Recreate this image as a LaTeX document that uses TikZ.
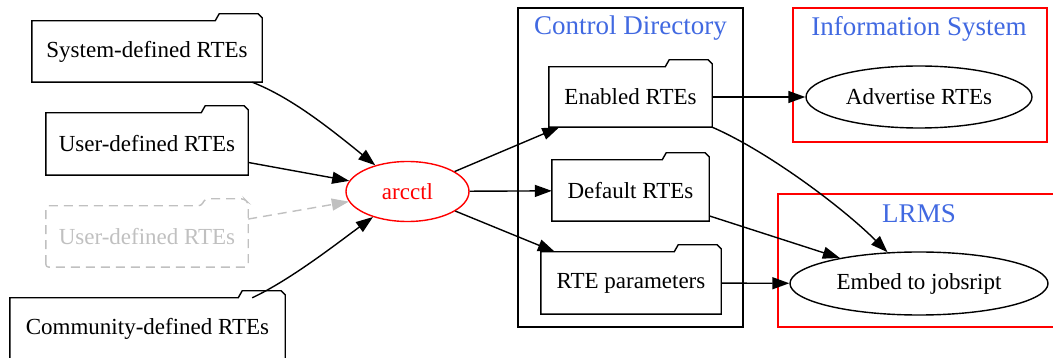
\documentclass[tikz,border=0pt]{standalone}
\usepackage{xcolor}
\usepackage{fontspec}
\setmainfont{Liberation Serif}
\usepackage{tikz}
\usetikzlibrary{positioning}
\usetikzlibrary{calc}
\usetikzlibrary{shapes.geometric}
\usetikzlibrary{arrows, arrows.meta}

\definecolor{labelblue}{RGB}{65,105,225}
\definecolor{ghostgray}{RGB}{192,192,192}

% folder outline, tab on the right
\newcommand{\folderline}[2][]{%
  \draw[line width=1.4pt, #1] (#2.south west) -- (#2.north west) -- ([xshift=-47pt]#2.north east)
    -- ([xshift=-43pt,yshift=7pt]#2.north east) -- ([xshift=-4pt,yshift=7pt]#2.north east)
    -- ([yshift=3pt]#2.north east) -- (#2.south east) -- cycle;
}

\tikzset{
  rte/.style={rectangle, inner sep=0pt, font=\fontsize{23}{26}\selectfont},
  proc/.style={ellipse, draw, line width=1.4pt, inner sep=0pt, font=\fontsize{23}{26}\selectfont},
  cluster/.style={draw, line width=1.4pt},
  clabel/.style={text=labelblue, font=\fontsize{27}{30}\selectfont},
  edge/.style={line width=1.4pt, >={Triangle[length=17pt,width=12pt]}, ->},
  ghostline/.style={ghostgray, dash pattern=on 9pt off 6pt},
}

\begin{document}
\begin{tikzpicture}[x=1pt, y=-1pt]
  \useasboundingbox (0,0) rectangle (1053,358);

  % clusters
  \draw[cluster] (518,8) rectangle (743,327);
  \draw[cluster, red] (793,8) rectangle (1047,142);
  \draw[cluster, red] (778,194) rectangle (1060,327);
  \node[clabel] (cdir) at (630.5,28) {Control Directory};
  \node[clabel] (isys) at (919,28.5) {Information System};
  \node[clabel] (lrms) at (919,214) {LRMS};

  % sources
  \node[rte, minimum width=230pt, minimum height=61pt] (sys) at (147,51.5) {System-defined RTEs};
  \node[rte, minimum width=202pt, minimum height=62pt] (usr) at (147,144) {User-defined RTEs};
  \node[rte, minimum width=202pt, minimum height=61pt, text=ghostgray] (ghost) at (147,236.5) {User-defined RTEs};
  \node[rte, minimum width=275pt, minimum height=62pt] (com) at (147.5,329) {Community-defined RTEs};
  \folderline{sys}
  \folderline{usr}
  \folderline[ghostline, rounded corners=3pt]{ghost}
  \folderline{com}

  \node[proc, red, minimum width=123pt, minimum height=60pt] (arc) at (407.5,191.5) {arcctl};

  % control directory
  \node[rte, minimum width=163pt, minimum height=60pt] (enabled) at (630.5,97) {Enabled RTEs};
  \node[rte, minimum width=157pt, minimum height=61pt] (default) at (630.5,190.5) {Default RTEs};
  \node[rte, minimum width=180pt, minimum height=62pt] (params) at (631,283) {RTE parameters};
  \folderline{enabled}
  \folderline{default}
  \folderline{params}

  \node[proc, minimum width=226pt, minimum height=62pt] (advert) at (919,97) {Advertise RTEs};
  \node[proc, minimum width=258pt, minimum height=63pt] (embed) at (919,283.5) {Embed to jobsript};

  % edges
  \draw[edge] ([xshift=-10pt]sys.south east) .. controls (290,97) and (327,126) .. (arc);
  \draw[edge] (usr) -- (arc);
  \draw[edge, ghostline] (ghost) -- (arc);
  \draw[edge] ([xshift=-33pt]com.north east) .. controls (290,280) and (335,245) .. (arc);
  \draw[edge] (arc) -- (enabled);
  \draw[edge] (arc) -- (default);
  \draw[edge] (arc) -- (params);
  \draw[edge] (enabled) -- (advert);
  \draw[edge] (enabled.south east) .. controls (765,150) and (840,205) .. (embed);
  \draw[edge] (default) -- (embed);
  \draw[edge] (params) -- (embed);
\end{tikzpicture}
\end{document}
